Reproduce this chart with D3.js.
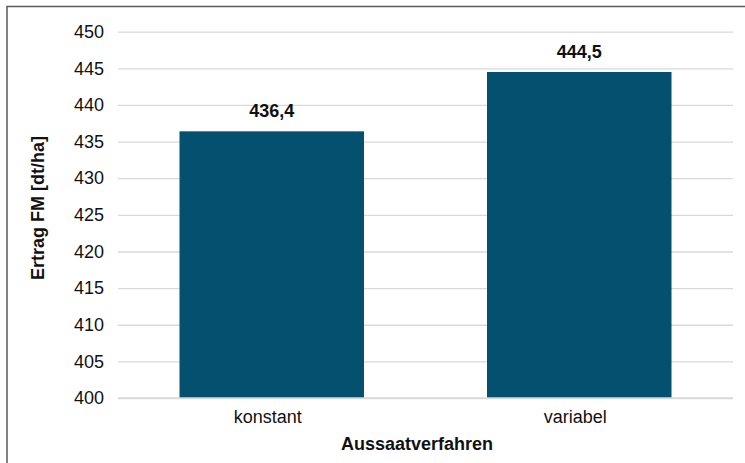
<!DOCTYPE html>
<html>
<head>
<meta charset="utf-8">
<script src="https://cdn.jsdelivr.net/npm/d3@7"></script>
<style>
  html, body { margin: 0; padding: 0; background: #fff; }
  svg { display: block; }
  text { font-family: "Liberation Sans", Arial, sans-serif; fill: #111; }
</style>
</head>
<body>
<svg id="chart" width="745" height="463"></svg>
<script>
const categories = ["konstant", "variabel"];
const values = [436.4, 444.5];
const valueLabels = ["436,4", "444,5"];
const yTicks = [400, 405, 410, 415, 420, 425, 430, 435, 440, 445, 450];
const xTitle = "Aussaatverfahren";
const yTitle = "Ertrag FM [dt/ha]";

const svg = d3.select("#chart");
const W = 745, H = 463;
const plot = { left: 118, right: 733, top: 31.7, bottom: 398 };

// frame (clipped border)
svg.append("path")
  .attr("d", `M7,463 V6.5 H745`)
  .attr("fill", "none")
  .attr("stroke", "#5a5a5a")
  .attr("stroke-width", 1.5);

const x = d3.scaleBand()
  .domain(categories)
  .range([plot.left, plot.right])
  .paddingInner(0.4)
  .paddingOuter(0.2);

const y = d3.scaleLinear()
  .domain([400, 450])
  .range([plot.bottom, plot.top]);

// gridlines
const yAxis = d3.axisLeft(y)
  .tickValues(yTicks)
  .tickSize(-(plot.right - plot.left))
  .tickPadding(14)
  .tickFormat(d3.format("d"));

const gy = svg.append("g")
  .attr("transform", `translate(${plot.left},0)`)
  .call(yAxis);
gy.select(".domain").remove();
gy.selectAll(".tick line").attr("stroke", "#d9d9d9").attr("stroke-width", 1.3);
gy.selectAll(".tick text")
  .attr("font-size", 18)
  .attr("font-family", "Liberation Sans, Arial, sans-serif")
  .attr("fill", "#111");

// bars
svg.append("g").selectAll("rect")
  .data(categories)
  .join("rect")
  .attr("x", d => x(d))
  .attr("width", x.bandwidth())
  .attr("y", (d, i) => y(values[i]))
  .attr("height", (d, i) => y(400) - y(values[i]))
  .attr("fill", "#03516f");

// value labels
svg.append("g").selectAll("text")
  .data(categories)
  .join("text")
  .attr("x", d => x(d) + x.bandwidth() / 2)
  .attr("y", (d, i) => y(values[i]) - 14)
  .attr("text-anchor", "middle")
  .attr("font-size", 18)
  .attr("font-weight", "bold")
  .text((d, i) => valueLabels[i]);

// x axis
const gx = svg.append("g")
  .attr("transform", `translate(0,${plot.bottom})`)
  .call(d3.axisBottom(x).tickSize(0).tickPadding(0));
gx.select(".domain")
  .attr("stroke", "#d9d9d9").attr("stroke-width", 1.3)
  .attr("d", `M${plot.left},0H${plot.right}`);
gx.selectAll(".tick text")
  .attr("font-size", 18)
  .attr("font-family", "Liberation Sans, Arial, sans-serif")
  .attr("fill", "#111")
  .attr("dy", null)
  .attr("y", 25)
  .attr("dx", -4);

// axis titles
svg.append("text")
  .attr("x", 417)
  .attr("y", 450)
  .attr("text-anchor", "middle")
  .attr("font-size", 18)
  .attr("font-weight", "bold")
  .text(xTitle);

svg.append("text")
  .attr("transform", "translate(44,208) rotate(-90)")
  .attr("text-anchor", "middle")
  .attr("font-size", 18)
  .attr("font-weight", "bold")
  .text(yTitle);
</script>
</body>
</html>
